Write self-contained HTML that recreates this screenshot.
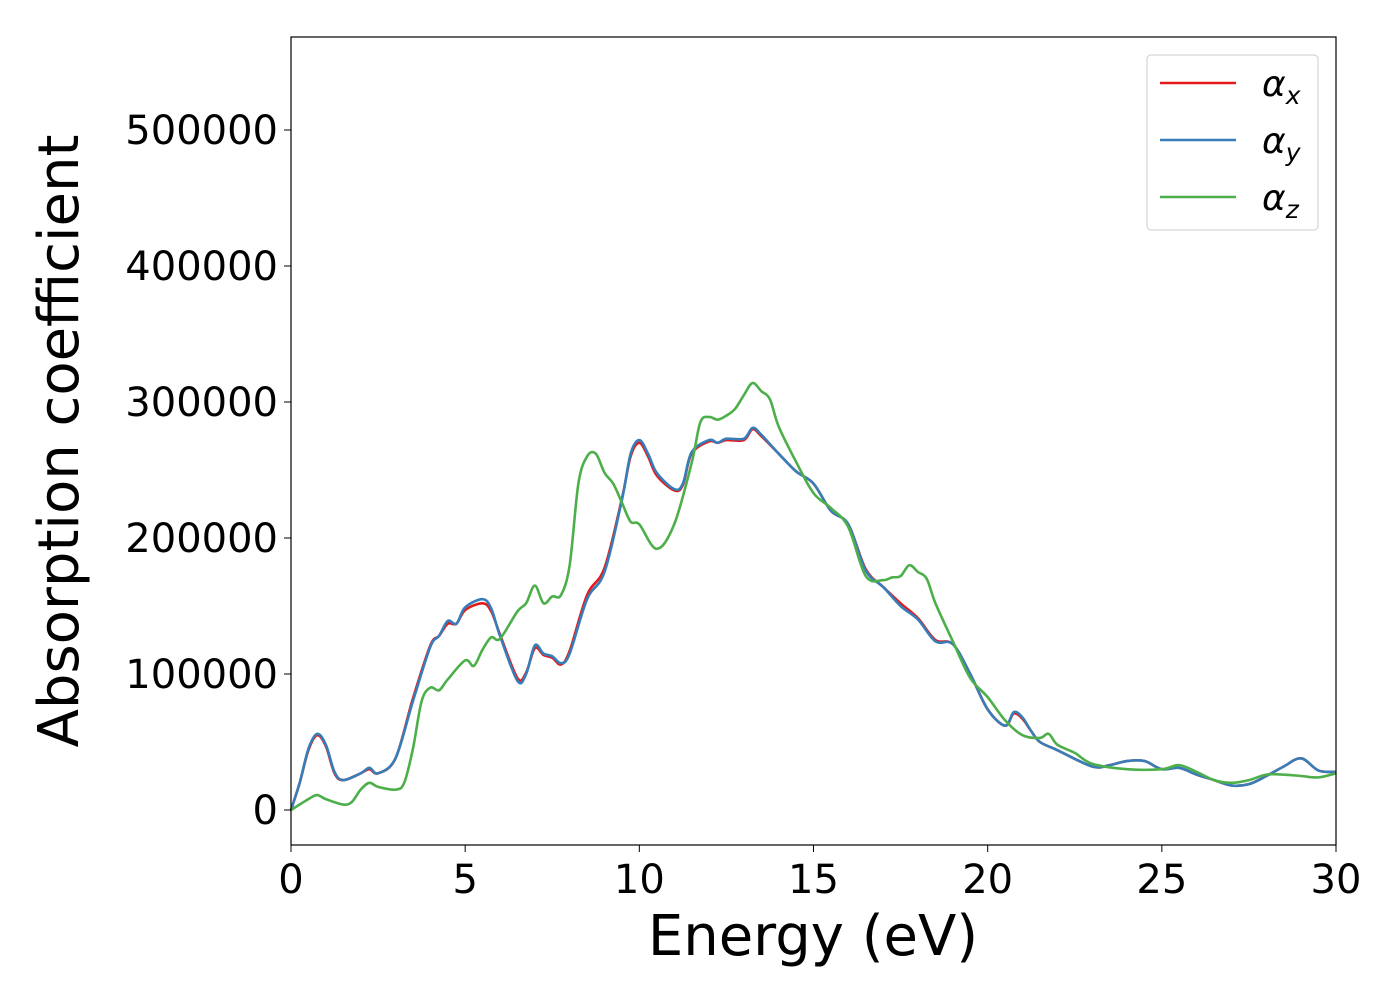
<!DOCTYPE html>
<html><head><meta charset="utf-8"><style>
body{margin:0;background:#fff;}
svg text{font-family:"DejaVu Sans","Liberation Sans",sans-serif;fill:#000;}
</style></head><body>
<svg id="chart" width="1400" height="1000" xmlns="http://www.w3.org/2000/svg">
<rect x="0" y="0" width="1400" height="1000" fill="#fff"/>
<g id="series"></g>
<rect x="291" y="37" width="1045" height="808" fill="none" stroke="#000" stroke-width="1.2"/>
<g id="axes"></g>
<text x="813" y="955" font-size="56" text-anchor="middle">Energy (eV)</text>
<text transform="translate(78,441) rotate(-90)" font-size="56" text-anchor="middle">Absorption coefficient</text>
<g>
<rect x="1147" y="55" width="171" height="175" rx="4" fill="#fff" stroke="#ccc" stroke-width="1"/>
<line x1="1160" y1="83" x2="1236" y2="83" stroke="#e41a1c" stroke-width="2.6"/>
<text x="1262" y="96" font-size="36" font-style="italic">α<tspan font-size="25" dy="8">x</tspan></text>
<line x1="1160" y1="140" x2="1236" y2="140" stroke="#377eb8" stroke-width="2.6"/>
<text x="1262" y="153" font-size="36" font-style="italic">α<tspan font-size="25" dy="8">y</tspan></text>
<line x1="1160" y1="197" x2="1236" y2="197" stroke="#4daf4a" stroke-width="2.6"/>
<text x="1262" y="210" font-size="36" font-style="italic">α<tspan font-size="25" dy="8">z</tspan></text>
</g>
</svg>
<script>
const energyX=[0,0.25,0.5,0.75,1,1.25,1.5,2,2.25,2.5,3,3.5,4,4.25,4.5,4.75,5,5.5,5.75,6,6.5,6.75,7,7.25,7.5,7.75,8,8.5,9,9.5,9.75,10,10.25,10.5,11,11.25,11.5,12,12.25,12.5,13,13.25,13.5,14,14.5,15,15.5,16,16.5,17,17.5,18,18.5,19,19.5,20,20.5,20.75,21,21.25,21.5,22,23,23.5,24,24.5,25,25.5,26,26.5,27,27.5,28,28.5,29,29.5,30];
const alphaY=[0,20,45,56,48,28,22,27,31,27,38,80,120,128,139,137,149,155,148,128,95,100,121,115,113,108,115,155,175,228,262,272,262,248,236,240,263,272,270,273,273,281,276,262,249,240,220,210,176,164,150,140,124,122,100,74,62,72,68,58,50,44,32,33,36,36,30,31,26,22,18,19,25,32,38,29,28];
const alphaX=[0,20,44,55,47,27,22,27,30,27,38,82,121,128,137,137,147,152,146,129,97,101,119,114,112,107,117,158,178,229,260,270,260,246,235,239,262,271,270,272,272,280,275,262,249,240,220,210,177,164,152,141,125,122,100,74,62,71,67,58,50,44,32,33,36,36,30,31,26,22,18,19,25,32,38,29,28];
const energyZ=[0,0.5,0.75,1,1.5,1.75,2,2.25,2.5,3,3.25,3.5,3.75,4,4.25,4.5,5,5.25,5.5,5.75,6,6.5,6.75,7,7.25,7.5,7.75,8,8.25,8.5,8.75,9,9.25,9.5,9.75,10,10.5,11,11.5,11.75,12,12.25,12.5,12.75,13,13.25,13.5,13.75,14,14.5,15,15.5,16,16.5,17,17.25,17.5,17.75,18,18.25,18.5,19,19.5,20,20.5,21,21.5,21.75,22,22.5,23,24,25,25.5,26,26.5,27,27.5,28,28.5,29,29.5,30];
const alphaZ=[0,8,11,8,4,6,15,20,17,15,20,45,80,90,88,96,110,106,118,127,126,146,152,165,152,157,158,180,240,260,262,248,240,226,212,210,192,210,255,285,289,287,290,295,305,314,308,302,282,256,233,222,208,172,169,171,172,180,175,170,152,124,97,83,66,55,53,56,48,42,34,30,30,33,28,22,20,22,26,26,25,24,27];
const xTicks=[0,5,10,15,20,25,30];
const yTicks=[0,100000,200000,300000,400000,500000];
const NS="http://www.w3.org/2000/svg";
const X=e=>291+e*1045/30;
const Y=v=>810-v*136/100000;
function pathFor(xs,ys){
  const p=xs.map((e,i)=>[X(e),Y(ys[i]*1000)]);
  let d="M"+p[0][0]+","+p[0][1];
  for(let i=0;i<p.length-1;i++){
    const p0=p[Math.max(0,i-1)],p1=p[i],p2=p[i+1],p3=p[Math.min(p.length-1,i+2)];
    const c1=[p1[0]+(p2[0]-p0[0])/6,p1[1]+(p2[1]-p0[1])/6];
    const c2=[p2[0]-(p3[0]-p1[0])/6,p2[1]-(p3[1]-p1[1])/6];
    d+=" C"+c1[0]+","+c1[1]+" "+c2[0]+","+c2[1]+" "+p2[0]+","+p2[1];
  }
  return d;
}
const g=document.getElementById('series');
[[energyX,alphaX,'#e41a1c','line-alpha-x'],[energyX,alphaY,'#377eb8','line-alpha-y'],[energyZ,alphaZ,'#4daf4a','line-alpha-z']].forEach(s=>{
  const el=document.createElementNS(NS,'path');
  el.setAttribute('d',pathFor(s[0],s[1]));
  el.setAttribute('fill','none');el.setAttribute('stroke',s[2]);el.setAttribute('stroke-width','2.6');
  
  
  g.appendChild(el);
});
const ax=document.getElementById('axes');
xTicks.forEach(t=>{
  const l=document.createElementNS(NS,'line');
  l.setAttribute('x1',X(t));l.setAttribute('x2',X(t));l.setAttribute('y1',845);l.setAttribute('y2',852);l.setAttribute('stroke','#000');
  
  
  ax.appendChild(l);
  const tx=document.createElementNS(NS,'text');
  tx.setAttribute('x',X(t));tx.setAttribute('y',893);tx.setAttribute('font-size','40');tx.setAttribute('text-anchor','middle');
  tx.textContent=t;
  
  
  ax.appendChild(tx);
});
yTicks.forEach(t=>{
  const l=document.createElementNS(NS,'line');
  l.setAttribute('x1',284);l.setAttribute('x2',291);l.setAttribute('y1',Y(t));l.setAttribute('y2',Y(t));l.setAttribute('stroke','#000');
  
  
  ax.appendChild(l);
  const tx=document.createElementNS(NS,'text');
  tx.setAttribute('x',278);tx.setAttribute('y',Y(t)+14);tx.setAttribute('font-size','40');tx.setAttribute('text-anchor','end');
  tx.textContent=t;
  
  
  ax.appendChild(tx);
});
</script>
</body></html>
